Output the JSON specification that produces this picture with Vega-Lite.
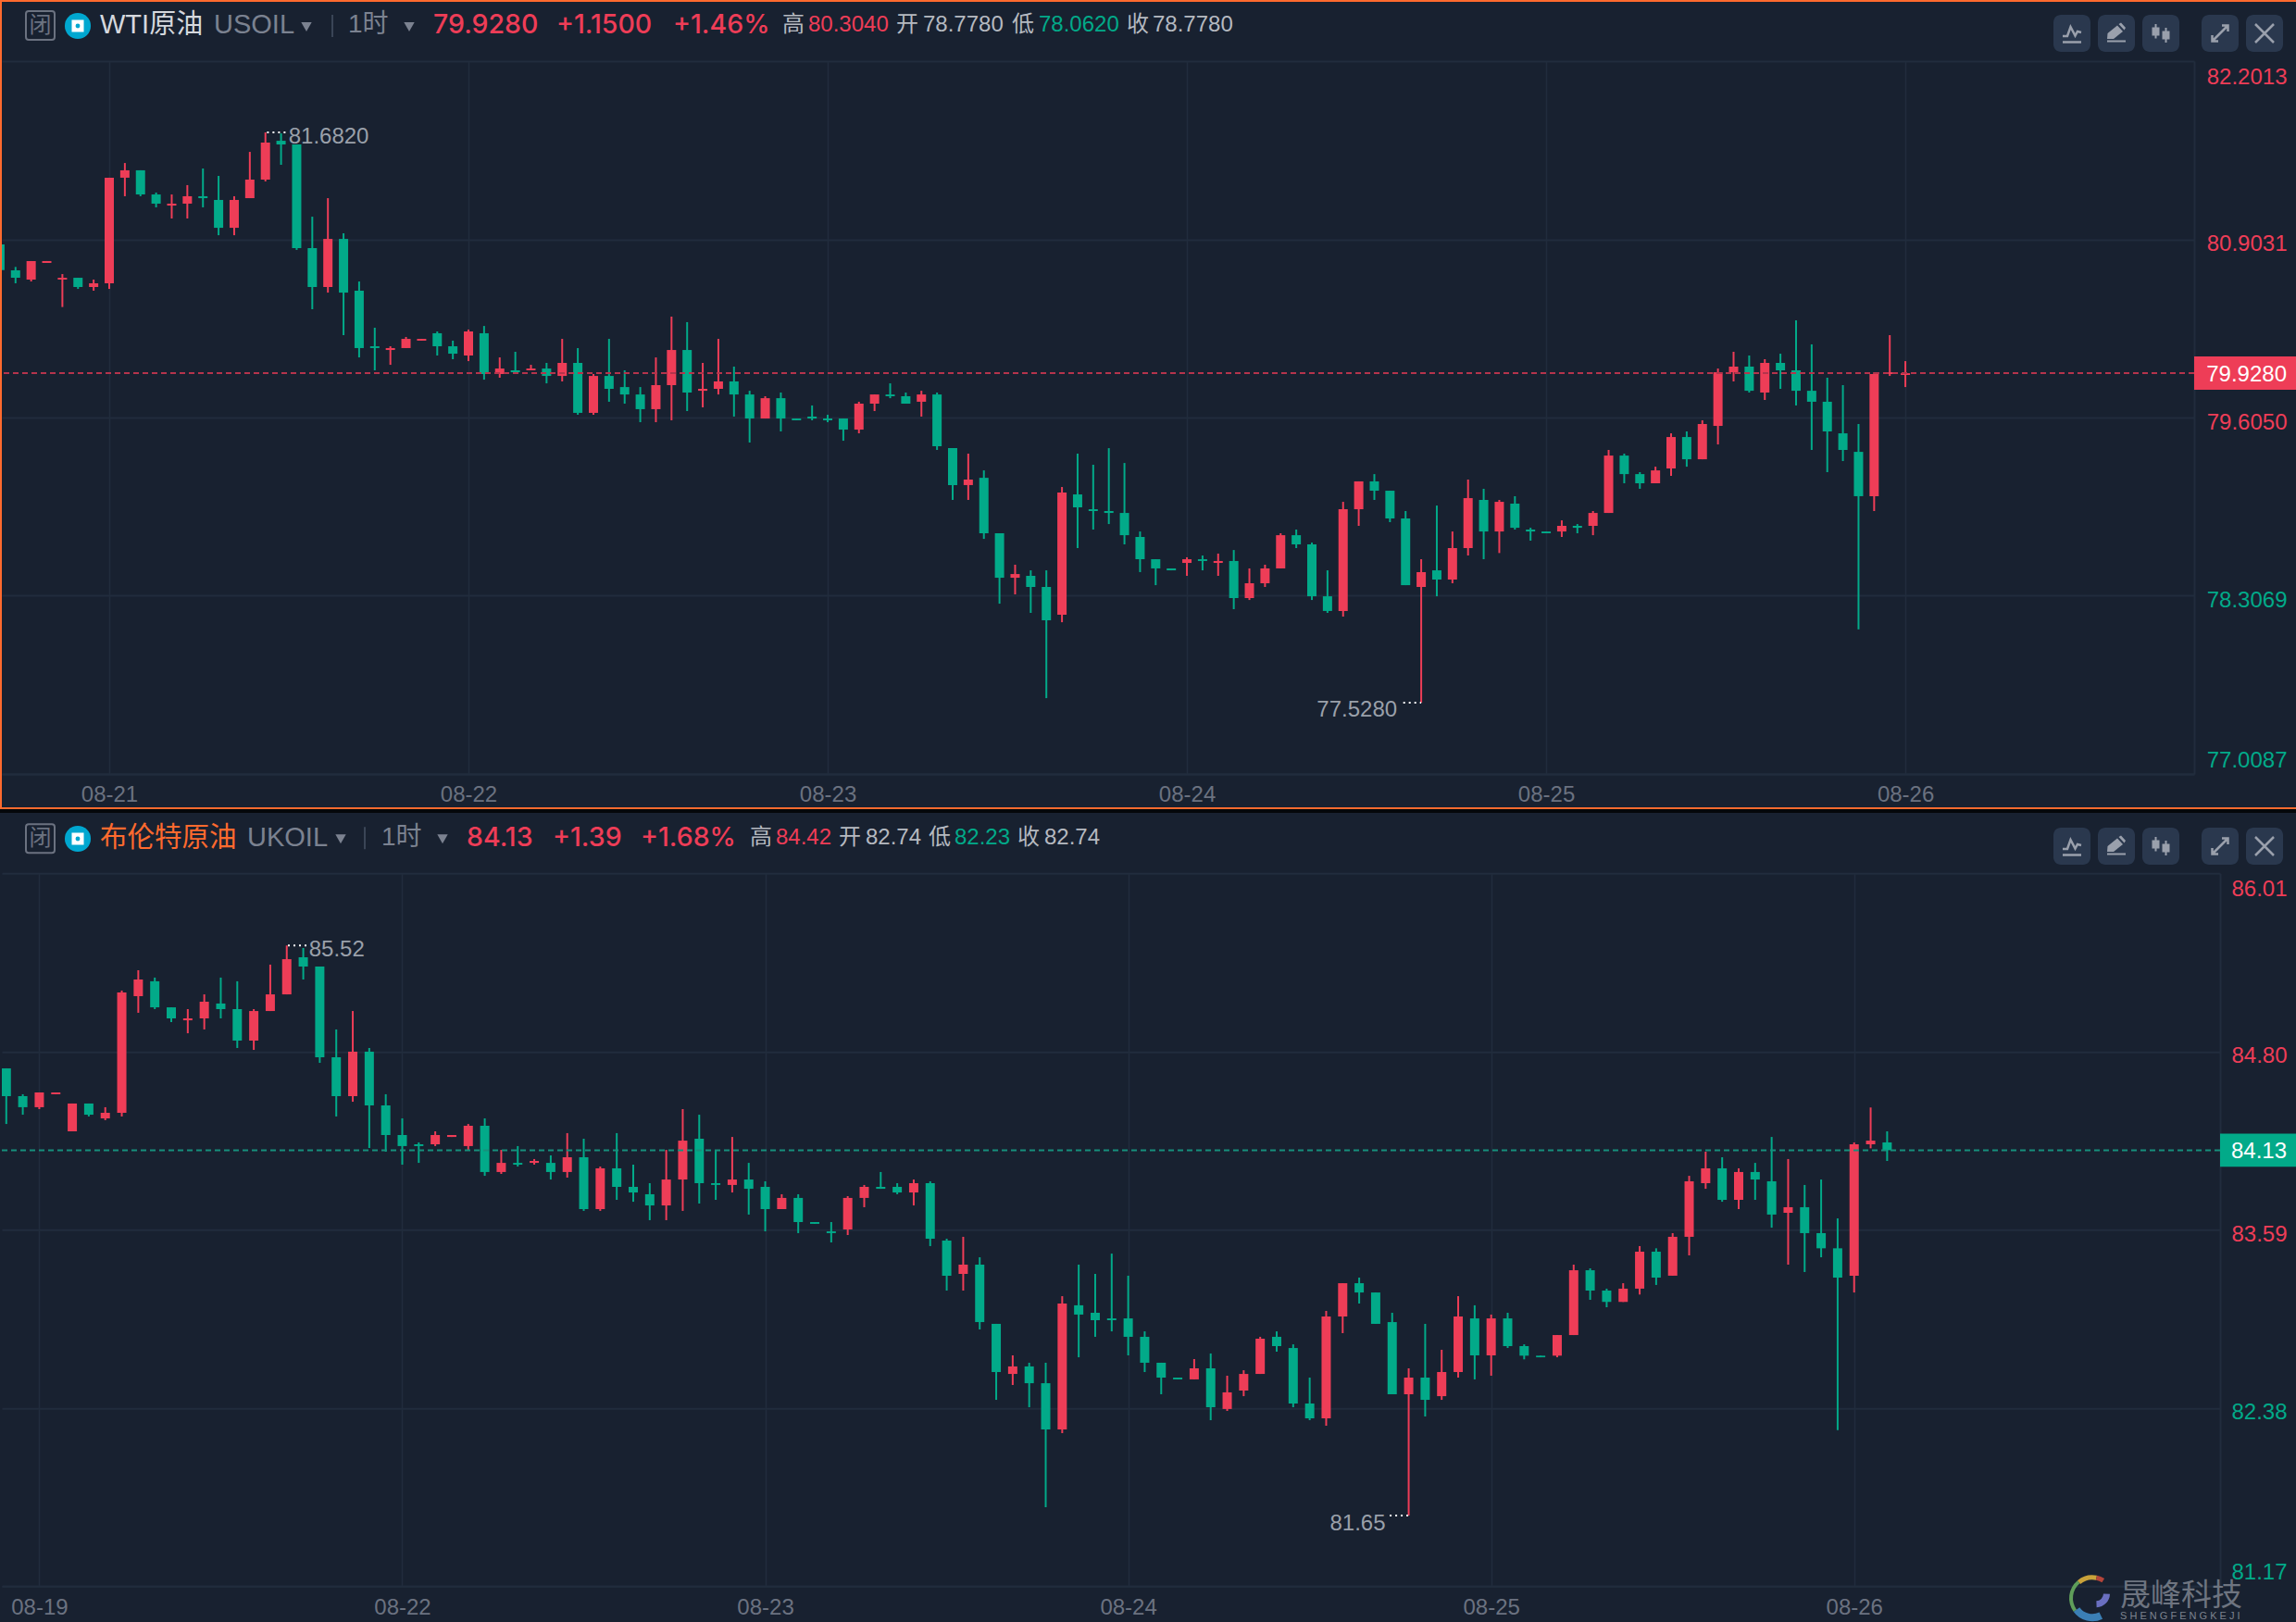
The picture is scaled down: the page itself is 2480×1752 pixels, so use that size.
{
"$schema":"https://vega.github.io/schema/vega-lite/v6.json",
"background":"#182130",
"padding":0,
"spacing":107.3,
"bounds":"flush",
"config":{"view":{"stroke":null},"font":"Liberation Sans, Noto Sans CJK SC"},
"datasets":{
"one":[{}],
"usoil":[
{"i":0,"o":80.866,"h":80.866,"l":80.679,"c":80.679},{"i":1,"o":80.677,"h":80.702,"l":80.583,"c":80.623},{"i":2,"o":80.610,"h":80.745,"l":80.596,"c":80.745},{"i":3,"o":80.731,"h":80.745,"l":80.731,"c":80.745},{"i":4,"o":80.610,"h":80.650,"l":80.410,"c":80.623},{"i":5,"o":80.623,"h":80.623,"l":80.542,"c":80.556},{"i":6,"o":80.556,"h":80.610,"l":80.529,"c":80.583},{"i":7,"o":80.583,"h":81.352,"l":80.542,"c":81.352},{"i":8,"o":81.352,"h":81.459,"l":81.217,"c":81.406},{"i":9,"o":81.406,"h":81.406,"l":81.217,"c":81.230},
{"i":10,"o":81.230,"h":81.244,"l":81.136,"c":81.163},{"i":11,"o":81.149,"h":81.230,"l":81.055,"c":81.163},{"i":12,"o":81.163,"h":81.298,"l":81.055,"c":81.217},{"i":13,"o":81.217,"h":81.419,"l":81.136,"c":81.203},{"i":14,"o":81.190,"h":81.365,"l":80.933,"c":80.987},{"i":15,"o":80.987,"h":81.217,"l":80.933,"c":81.190},{"i":16,"o":81.203,"h":81.540,"l":81.203,"c":81.338},{"i":17,"o":81.338,"h":81.682,"l":81.325,"c":81.608},{"i":18,"o":81.621,"h":81.675,"l":81.446,"c":81.594},{"i":19,"o":81.594,"h":81.594,"l":80.826,"c":80.839},
{"i":20,"o":80.839,"h":81.068,"l":80.394,"c":80.556},{"i":21,"o":80.556,"h":81.203,"l":80.515,"c":80.906},{"i":22,"o":80.906,"h":80.947,"l":80.205,"c":80.515},{"i":23,"o":80.529,"h":80.596,"l":80.043,"c":80.111},{"i":24,"o":80.124,"h":80.259,"l":79.949,"c":80.111},{"i":25,"o":80.097,"h":80.124,"l":79.989,"c":80.111},{"i":26,"o":80.111,"h":80.192,"l":80.111,"c":80.178},{"i":27,"o":80.165,"h":80.178,"l":80.165,"c":80.178},{"i":28,"o":80.219,"h":80.232,"l":80.057,"c":80.124},{"i":29,"o":80.124,"h":80.165,"l":80.030,"c":80.070},
{"i":30,"o":80.057,"h":80.246,"l":80.016,"c":80.232},{"i":31,"o":80.219,"h":80.272,"l":79.881,"c":79.922},{"i":32,"o":79.922,"h":80.043,"l":79.895,"c":79.962},{"i":33,"o":79.949,"h":80.084,"l":79.935,"c":79.935},{"i":34,"o":79.949,"h":79.989,"l":79.949,"c":79.962},{"i":35,"o":79.962,"h":80.003,"l":79.854,"c":79.908},{"i":36,"o":79.908,"h":80.178,"l":79.868,"c":80.003},{"i":37,"o":80.003,"h":80.111,"l":79.625,"c":79.639},{"i":38,"o":79.639,"h":79.922,"l":79.625,"c":79.908},{"i":39,"o":79.908,"h":80.178,"l":79.720,"c":79.814},
{"i":40,"o":79.827,"h":79.949,"l":79.706,"c":79.773},{"i":41,"o":79.773,"h":79.827,"l":79.571,"c":79.666},{"i":42,"o":79.666,"h":80.043,"l":79.571,"c":79.841},{"i":43,"o":79.841,"h":80.340,"l":79.585,"c":80.097},{"i":44,"o":80.097,"h":80.300,"l":79.652,"c":79.787},{"i":45,"o":79.800,"h":80.003,"l":79.679,"c":79.814},{"i":46,"o":79.814,"h":80.178,"l":79.773,"c":79.868},{"i":47,"o":79.868,"h":79.976,"l":79.612,"c":79.773},{"i":48,"o":79.773,"h":79.800,"l":79.423,"c":79.598},{"i":49,"o":79.598,"h":79.760,"l":79.598,"c":79.746},
{"i":50,"o":79.746,"h":79.787,"l":79.504,"c":79.598},{"i":51,"o":79.598,"h":79.598,"l":79.585,"c":79.585},{"i":52,"o":79.612,"h":79.693,"l":79.585,"c":79.598},{"i":53,"o":79.598,"h":79.625,"l":79.571,"c":79.585},{"i":54,"o":79.598,"h":79.598,"l":79.436,"c":79.517},{"i":55,"o":79.517,"h":79.720,"l":79.490,"c":79.706},{"i":56,"o":79.706,"h":79.773,"l":79.652,"c":79.773},{"i":57,"o":79.773,"h":79.854,"l":79.746,"c":79.760},{"i":58,"o":79.760,"h":79.787,"l":79.706,"c":79.706},{"i":59,"o":79.720,"h":79.800,"l":79.612,"c":79.773},
{"i":60,"o":79.773,"h":79.787,"l":79.369,"c":79.396},{"i":61,"o":79.382,"h":79.382,"l":79.005,"c":79.113},{"i":62,"o":79.113,"h":79.342,"l":79.005,"c":79.153},{"i":63,"o":79.166,"h":79.220,"l":78.721,"c":78.762},{"i":64,"o":78.762,"h":78.762,"l":78.249,"c":78.438},{"i":65,"o":78.438,"h":78.533,"l":78.317,"c":78.465},{"i":66,"o":78.452,"h":78.492,"l":78.182,"c":78.371},{"i":67,"o":78.371,"h":78.492,"l":77.561,"c":78.128},{"i":68,"o":78.169,"h":79.099,"l":78.114,"c":79.059},{"i":69,"o":79.045,"h":79.342,"l":78.654,"c":78.951},
{"i":70,"o":78.937,"h":79.261,"l":78.789,"c":78.924},{"i":71,"o":78.924,"h":79.382,"l":78.829,"c":78.910},{"i":72,"o":78.910,"h":79.274,"l":78.681,"c":78.748},{"i":73,"o":78.735,"h":78.775,"l":78.479,"c":78.573},{"i":74,"o":78.573,"h":78.573,"l":78.384,"c":78.506},{"i":75,"o":78.506,"h":78.506,"l":78.492,"c":78.492},{"i":76,"o":78.546,"h":78.587,"l":78.452,"c":78.573},{"i":77,"o":78.573,"h":78.600,"l":78.492,"c":78.560},{"i":78,"o":78.546,"h":78.614,"l":78.452,"c":78.560},{"i":79,"o":78.560,"h":78.640,"l":78.209,"c":78.290},
{"i":80,"o":78.290,"h":78.506,"l":78.276,"c":78.398},{"i":81,"o":78.398,"h":78.533,"l":78.371,"c":78.506},{"i":82,"o":78.506,"h":78.762,"l":78.506,"c":78.748},{"i":83,"o":78.748,"h":78.789,"l":78.654,"c":78.681},{"i":84,"o":78.681,"h":78.694,"l":78.276,"c":78.303},{"i":85,"o":78.303,"h":78.492,"l":78.182,"c":78.196},{"i":86,"o":78.196,"h":78.991,"l":78.155,"c":78.937},{"i":87,"o":78.937,"h":79.140,"l":78.816,"c":79.140},{"i":88,"o":79.140,"h":79.193,"l":79.005,"c":79.072},{"i":89,"o":79.072,"h":79.072,"l":78.843,"c":78.870},
{"i":90,"o":78.870,"h":78.924,"l":78.384,"c":78.384},{"i":91,"o":78.371,"h":78.573,"l":77.528,"c":78.479},{"i":92,"o":78.492,"h":78.964,"l":78.303,"c":78.425},{"i":93,"o":78.425,"h":78.775,"l":78.398,"c":78.654},{"i":94,"o":78.654,"h":79.153,"l":78.600,"c":79.018},{"i":95,"o":79.005,"h":79.086,"l":78.573,"c":78.775},{"i":96,"o":78.775,"h":79.005,"l":78.618,"c":78.991},{"i":97,"o":78.978,"h":79.032,"l":78.789,"c":78.802},{"i":98,"o":78.789,"h":78.802,"l":78.708,"c":78.775},{"i":99,"o":78.775,"h":78.775,"l":78.762,"c":78.762},
{"i":100,"o":78.775,"h":78.856,"l":78.735,"c":78.816},{"i":101,"o":78.816,"h":78.829,"l":78.762,"c":78.802},{"i":102,"o":78.816,"h":78.924,"l":78.748,"c":78.910},{"i":103,"o":78.910,"h":79.369,"l":78.910,"c":79.328},{"i":104,"o":79.328,"h":79.342,"l":79.126,"c":79.193},{"i":105,"o":79.193,"h":79.207,"l":79.086,"c":79.126},{"i":106,"o":79.126,"h":79.247,"l":79.126,"c":79.220},{"i":107,"o":79.234,"h":79.490,"l":79.180,"c":79.463},{"i":108,"o":79.463,"h":79.504,"l":79.247,"c":79.301},{"i":109,"o":79.301,"h":79.585,"l":79.301,"c":79.558},
{"i":110,"o":79.544,"h":79.962,"l":79.409,"c":79.935},{"i":111,"o":79.935,"h":80.084,"l":79.868,"c":79.976},{"i":112,"o":79.976,"h":80.057,"l":79.787,"c":79.800},{"i":113,"o":79.787,"h":80.030,"l":79.733,"c":80.003},{"i":114,"o":80.003,"h":80.070,"l":79.814,"c":79.949},{"i":115,"o":79.949,"h":80.313,"l":79.693,"c":79.800},{"i":116,"o":79.800,"h":80.138,"l":79.369,"c":79.720},{"i":117,"o":79.720,"h":79.895,"l":79.207,"c":79.504},{"i":118,"o":79.490,"h":79.841,"l":79.288,"c":79.369},{"i":119,"o":79.355,"h":79.558,"l":78.062,"c":79.032},
{"i":120,"o":79.032,"h":79.935,"l":78.924,"c":79.922},{"i":121,"o":79.922,"h":80.205,"l":79.908,"c":79.935},{"i":122,"o":79.915,"h":80.016,"l":79.827,"c":79.928}
],
"ukoil":[
{"i":0,"o":84.686,"h":84.686,"l":84.308,"c":84.497},{"i":1,"o":84.497,"h":84.510,"l":84.371,"c":84.422},{"i":2,"o":84.422,"h":84.522,"l":84.409,"c":84.522},{"i":3,"o":84.510,"h":84.522,"l":84.510,"c":84.522},{"i":4,"o":84.258,"h":84.447,"l":84.258,"c":84.447},{"i":5,"o":84.447,"h":84.447,"l":84.359,"c":84.371},{"i":6,"o":84.346,"h":84.422,"l":84.334,"c":84.384},{"i":7,"o":84.384,"h":85.214,"l":84.359,"c":85.201},{"i":8,"o":85.176,"h":85.352,"l":85.063,"c":85.289},{"i":9,"o":85.277,"h":85.302,"l":85.088,"c":85.100},
{"i":10,"o":85.100,"h":85.100,"l":85.000,"c":85.025},{"i":11,"o":85.012,"h":85.088,"l":84.924,"c":85.025},{"i":12,"o":85.025,"h":85.188,"l":84.950,"c":85.138},{"i":13,"o":85.126,"h":85.302,"l":85.025,"c":85.088},{"i":14,"o":85.088,"h":85.277,"l":84.824,"c":84.874},{"i":15,"o":84.874,"h":85.088,"l":84.811,"c":85.075},{"i":16,"o":85.075,"h":85.390,"l":85.075,"c":85.188},{"i":17,"o":85.188,"h":85.52,"l":85.188,"c":85.427},{"i":18,"o":85.440,"h":85.503,"l":85.289,"c":85.377},{"i":19,"o":85.377,"h":85.377,"l":84.723,"c":84.761},
{"i":20,"o":84.761,"h":84.950,"l":84.359,"c":84.497},{"i":21,"o":84.497,"h":85.075,"l":84.459,"c":84.799},{"i":22,"o":84.799,"h":84.824,"l":84.145,"c":84.434},{"i":23,"o":84.434,"h":84.510,"l":84.120,"c":84.233},{"i":24,"o":84.233,"h":84.346,"l":84.032,"c":84.158},{"i":25,"o":84.170,"h":84.183,"l":84.044,"c":84.158},{"i":26,"o":84.170,"h":84.258,"l":84.158,"c":84.233},{"i":27,"o":84.220,"h":84.233,"l":84.220,"c":84.233},{"i":28,"o":84.158,"h":84.308,"l":84.132,"c":84.296},{"i":29,"o":84.296,"h":84.346,"l":83.956,"c":83.982},
{"i":30,"o":83.982,"h":84.132,"l":83.969,"c":84.044},{"i":31,"o":84.044,"h":84.158,"l":84.019,"c":84.032},{"i":32,"o":84.044,"h":84.070,"l":84.032,"c":84.057},{"i":33,"o":84.044,"h":84.095,"l":83.931,"c":83.982},{"i":34,"o":83.982,"h":84.246,"l":83.944,"c":84.082},{"i":35,"o":84.082,"h":84.208,"l":83.718,"c":83.730},{"i":36,"o":83.730,"h":84.019,"l":83.718,"c":84.007},{"i":37,"o":84.007,"h":84.246,"l":83.793,"c":83.881},{"i":38,"o":83.881,"h":84.032,"l":83.780,"c":83.843},{"i":39,"o":83.831,"h":83.906,"l":83.655,"c":83.755},
{"i":40,"o":83.755,"h":84.132,"l":83.655,"c":83.931},{"i":41,"o":83.931,"h":84.409,"l":83.718,"c":84.195},{"i":42,"o":84.208,"h":84.371,"l":83.768,"c":83.906},{"i":43,"o":83.906,"h":84.132,"l":83.793,"c":83.894},{"i":44,"o":83.894,"h":84.220,"l":83.843,"c":83.931},{"i":45,"o":83.931,"h":84.044,"l":83.693,"c":83.868},{"i":46,"o":83.881,"h":83.919,"l":83.579,"c":83.730},{"i":47,"o":83.730,"h":83.831,"l":83.730,"c":83.806},{"i":48,"o":83.806,"h":83.831,"l":83.567,"c":83.642},{"i":49,"o":83.642,"h":83.642,"l":83.630,"c":83.630},
{"i":50,"o":83.579,"h":83.642,"l":83.504,"c":83.567},{"i":51,"o":83.592,"h":83.818,"l":83.554,"c":83.806},{"i":52,"o":83.806,"h":83.894,"l":83.743,"c":83.881},{"i":53,"o":83.881,"h":83.982,"l":83.868,"c":83.868},{"i":54,"o":83.881,"h":83.906,"l":83.831,"c":83.843},{"i":55,"o":83.843,"h":83.931,"l":83.755,"c":83.906},{"i":56,"o":83.906,"h":83.919,"l":83.479,"c":83.529},{"i":57,"o":83.516,"h":83.529,"l":83.177,"c":83.278},{"i":58,"o":83.290,"h":83.542,"l":83.177,"c":83.353},{"i":59,"o":83.353,"h":83.403,"l":82.913,"c":82.963},
{"i":60,"o":82.951,"h":82.951,"l":82.435,"c":82.624},{"i":61,"o":82.611,"h":82.737,"l":82.536,"c":82.662},{"i":62,"o":82.662,"h":82.687,"l":82.385,"c":82.548},{"i":63,"o":82.548,"h":82.687,"l":81.706,"c":82.234},{"i":64,"o":82.234,"h":83.139,"l":82.209,"c":83.089},{"i":65,"o":83.077,"h":83.353,"l":82.724,"c":83.014},{"i":66,"o":83.026,"h":83.290,"l":82.863,"c":82.976},{"i":67,"o":82.988,"h":83.428,"l":82.900,"c":82.976},{"i":68,"o":82.988,"h":83.278,"l":82.737,"c":82.863},{"i":69,"o":82.863,"h":82.900,"l":82.624,"c":82.687},
{"i":70,"o":82.687,"h":82.687,"l":82.473,"c":82.586},{"i":71,"o":82.586,"h":82.586,"l":82.574,"c":82.574},{"i":72,"o":82.574,"h":82.712,"l":82.574,"c":82.649},{"i":73,"o":82.649,"h":82.750,"l":82.297,"c":82.385},{"i":74,"o":82.373,"h":82.599,"l":82.360,"c":82.486},{"i":75,"o":82.498,"h":82.636,"l":82.460,"c":82.611},{"i":76,"o":82.611,"h":82.863,"l":82.611,"c":82.850},{"i":77,"o":82.863,"h":82.900,"l":82.762,"c":82.800},{"i":78,"o":82.787,"h":82.812,"l":82.385,"c":82.410},{"i":79,"o":82.410,"h":82.586,"l":82.297,"c":82.310},
{"i":80,"o":82.310,"h":83.039,"l":82.259,"c":83.001},{"i":81,"o":83.001,"h":83.227,"l":82.888,"c":83.227},{"i":82,"o":83.227,"h":83.265,"l":83.089,"c":83.164},{"i":83,"o":83.164,"h":83.164,"l":82.951,"c":82.951},{"i":84,"o":82.963,"h":83.026,"l":82.473,"c":82.473},{"i":85,"o":82.473,"h":82.649,"l":81.65,"c":82.586},{"i":86,"o":82.586,"h":82.951,"l":82.322,"c":82.435},{"i":87,"o":82.460,"h":82.775,"l":82.435,"c":82.624},{"i":88,"o":82.624,"h":83.139,"l":82.586,"c":83.001},{"i":89,"o":82.988,"h":83.077,"l":82.574,"c":82.737},
{"i":90,"o":82.737,"h":83.014,"l":82.599,"c":82.988},{"i":91,"o":82.988,"h":83.026,"l":82.787,"c":82.800},{"i":92,"o":82.800,"h":82.812,"l":82.710,"c":82.735},{"i":93,"o":82.735,"h":82.735,"l":82.724,"c":82.724},{"i":94,"o":82.735,"h":82.875,"l":82.724,"c":82.875},{"i":95,"o":82.875,"h":83.353,"l":82.875,"c":83.315},{"i":96,"o":83.315,"h":83.328,"l":83.114,"c":83.177},{"i":97,"o":83.177,"h":83.190,"l":83.064,"c":83.100},{"i":98,"o":83.100,"h":83.227,"l":83.100,"c":83.190},{"i":99,"o":83.190,"h":83.479,"l":83.150,"c":83.441},
{"i":100,"o":83.441,"h":83.464,"l":83.215,"c":83.265},{"i":101,"o":83.278,"h":83.567,"l":83.278,"c":83.542},{"i":102,"o":83.542,"h":83.956,"l":83.416,"c":83.919},{"i":103,"o":83.906,"h":84.120,"l":83.868,"c":84.007},{"i":104,"o":84.007,"h":84.082,"l":83.780,"c":83.793},{"i":105,"o":83.793,"h":84.007,"l":83.730,"c":83.982},{"i":106,"o":83.982,"h":84.044,"l":83.793,"c":83.931},{"i":107,"o":83.919,"h":84.220,"l":83.604,"c":83.693},{"i":108,"o":83.705,"h":84.070,"l":83.353,"c":83.743},{"i":109,"o":83.743,"h":83.894,"l":83.303,"c":83.567},
{"i":110,"o":83.567,"h":83.931,"l":83.403,"c":83.464},{"i":111,"o":83.464,"h":83.667,"l":82.23,"c":83.265},{"i":112,"o":83.278,"h":84.183,"l":83.164,"c":84.170},{"i":113,"o":84.170,"h":84.42,"l":84.143,"c":84.195},{"i":114,"o":84.183,"h":84.258,"l":84.057,"c":84.13}
]
},
"vconcat":[
{"width":2368,"height":770,"layer":[
{"data":{"name":"one"},"mark":{"type":"rect","color":"#ff6a2e"},"encoding":{"x":{"value":-2},"x2":{"value":2478},"y":{"value":-66},"y2":{"value":-64}}},
{"data":{"name":"one"},"mark":{"type":"rect","color":"#ff6a2e"},"encoding":{"x":{"value":-2},"x2":{"value":0},"y":{"value":-66},"y2":{"value":808}}},
{"data":{"name":"one"},"mark":{"type":"rect","color":"#ff6a2e"},"encoding":{"x":{"value":-2},"x2":{"value":2478},"y":{"value":806},"y2":{"value":808}}},
{"data":{"name":"one"},"mark":{"type":"rect","color":"#05070a"},"encoding":{"x":{"value":-2},"x2":{"value":2478},"y":{"value":808},"y2":{"value":812}}},
{"data":{"name":"usoil"},"mark":{"type":"rule","strokeWidth":2,"clip":true},"encoding":{
"x":{"field":"i","type":"quantitative","title":null,"scale":{"domain":[0.124,140.49],"nice":false,"zero":false,"padding":0},"axis":{"values":[7,30,53,76,99,122],"labelExpr":"{'7':'08-21','30':'08-22','53':'08-23','76':'08-24','99':'08-25','122':'08-26'}[datum.value]","grid":true,"gridColor":"#212c3d","gridWidth":1.5,"ticks":false,"domainColor":"#212c3d","domainWidth":2,"labelColor":"#6b7280","labelFontSize":24,"labelBaseline":"middle","labelPadding":22,"labelFlush":false,"labelOverlap":false}},
"y":{"field":"h","type":"quantitative","title":null,"scale":{"domain":[77.0087,82.2013],"nice":false,"zero":false},"axis":{"orient":"right","values":[77.0087,78.3069,79.605,80.9031,82.2013],"format":".4f","grid":true,"gridColor":"#212c3d","gridWidth":2,"ticks":false,"domainColor":"#212c3d","domainWidth":2,"labelAlign":"right","labelPadding":100,"labelFontSize":24,"labelFlush":false,"labelOverlap":false,"labelBaseline":"middle","labelOffset":{"condition":[{"test":"datum.value>82","value":17},{"test":"datum.value<77.1","value":-14.6}],"value":5},"labelColor":{"condition":{"test":"datum.value>78.778","value":"#ee3d57"},"value":"#02aa89"}}},
"y2":{"field":"l"},
"color":{"condition":{"test":"datum.c>=datum.o","value":"#ee3d57"},"value":"#02aa89"}}},
{"data":{"name":"usoil"},"mark":{"type":"bar","width":10,"clip":true},"encoding":{
"x":{"field":"i","type":"quantitative","title":null,"scale":{"domain":[0.124,140.49],"nice":false,"zero":false,"padding":0}},
"y":{"field":"o","type":"quantitative","title":null,"scale":{"domain":[77.0087,82.2013],"nice":false,"zero":false}},
"y2":{"field":"c"},
"color":{"condition":{"test":"datum.c>=datum.o","value":"#ee3d57"},"value":"#02aa89"}}},
{"data":{"name":"one"},"mark":{"type":"rule","color":"#b5344c","strokeWidth":2,"strokeDash":[6,4]},"encoding":{"y":{"datum":79.928,"type":"quantitative","title":null,"scale":{"domain":[77.0087,82.2013],"nice":false,"zero":false}}}},
{"data":{"values":[{"i":17.1,"i2":18.3,"price":81.682},{"i":89.85,"i2":91,"price":77.528}]},"mark":{"type":"rule","color":"#ffffff","strokeWidth":2,"strokeDash":[2,4]},"encoding":{
"x":{"field":"i","type":"quantitative","title":null,"scale":{"domain":[0.124,140.49],"nice":false,"zero":false,"padding":0}},"x2":{"field":"i2"},
"y":{"field":"price","type":"quantitative","title":null,"scale":{"domain":[77.0087,82.2013],"nice":false,"zero":false}}}},
{"data":{"values":[{"i":17,"price":81.682,"label":"81.6820"}]},"mark":{"type":"text","align":"left","baseline":"middle","dx":25,"dy":4.5,"fontSize":24,"color":"#9aa0aa"},"encoding":{
"x":{"field":"i","type":"quantitative","title":null,"scale":{"domain":[0.124,140.49],"nice":false,"zero":false,"padding":0}},
"y":{"field":"price","type":"quantitative","title":null,"scale":{"domain":[77.0087,82.2013],"nice":false,"zero":false}},"text":{"field":"label"}}},
{"data":{"values":[{"i":91,"price":77.528,"label":"77.5280"}]},"mark":{"type":"text","align":"right","baseline":"middle","dx":-26,"dy":8,"fontSize":24,"color":"#9aa0aa"},"encoding":{
"x":{"field":"i","type":"quantitative","title":null,"scale":{"domain":[0.124,140.49],"nice":false,"zero":false,"padding":0}},
"y":{"field":"price","type":"quantitative","title":null,"scale":{"domain":[77.0087,82.2013],"nice":false,"zero":false}},"text":{"field":"label"}}},
{"data":{"name":"one"},"mark":{"type":"rect","color":"#ee3d57"},"encoding":{"x":{"value":2368},"x2":{"value":2478},"y":{"datum":80.0494,"type":"quantitative","title":null,"scale":{"domain":[77.0087,82.2013],"nice":false,"zero":false}},"y2":{"datum":79.8066}}},
{"data":{"name":"one"},"mark":{"type":"text","text":"79.9280","align":"right","baseline":"middle","fontSize":24,"dy":2,"color":"#ffffff","x":2468},"encoding":{"y":{"datum":79.928,"type":"quantitative","title":null,"scale":{"domain":[77.0087,82.2013],"nice":false,"zero":false}}}},
{"data":{"name":"one"},"mark":{"type":"rect","fill":null,"stroke":"#6b7280","strokeWidth":2,"cornerRadius":3},"encoding":{"x":{"value":26},"x2":{"value":57},"y":{"value":-54},"y2":{"value":-23}}},
{"data":{"name":"one"},"mark":{"type":"text","text":"闭","align":"center","baseline":"middle","fontSize":24,"color":"#6b7280","x":41.5,"y":-38}},
{"data":{"name":"one"},"mark":{"type":"point","filled":true,"opacity":1,"shape":"circle","color":"#00a7d0","size":790},"encoding":{"x":{"value":82},"y":{"value":-38}}},
{"data":{"name":"one"},"mark":{"type":"point","filled":true,"opacity":1,"shape":"square","color":"#ffffff","size":170},"encoding":{"x":{"value":82},"y":{"value":-38}}},
{"data":{"name":"one"},"mark":{"type":"point","filled":true,"opacity":1,"shape":"circle","color":"#00a7d0","size":24},"encoding":{"x":{"value":82},"y":{"value":-38}}},
{"data":{"name":"one"},"mark":{"type":"text","text":"WTI原油","align":"left","baseline":"middle","fontSize":29,"color":"#d5d8de","x":106,"y":-39.5}},
{"data":{"name":"one"},"mark":{"type":"text","text":"USOIL","align":"left","baseline":"middle","fontSize":29,"color":"#7b8290","x":229,"y":-39.5}},
{"data":{"name":"one"},"mark":{"type":"point","filled":true,"opacity":1,"shape":"triangle-down","color":"#7b8290","size":130},"encoding":{"x":{"value":329},"y":{"value":-37}}},
{"data":{"name":"one"},"mark":{"type":"rule","color":"#3a4556","strokeWidth":2},"encoding":{"x":{"value":357},"y":{"value":-50},"y2":{"value":-26}}},
{"data":{"name":"one"},"mark":{"type":"text","text":"1时","align":"left","baseline":"middle","fontSize":28,"color":"#7b8290","x":374,"y":-39.5}},
{"data":{"name":"one"},"mark":{"type":"point","filled":true,"opacity":1,"shape":"triangle-down","color":"#7b8290","size":130},"encoding":{"x":{"value":440},"y":{"value":-37}}},
{"data":{"name":"one"},"mark":{"type":"text","text":"79.9280","align":"left","baseline":"middle","fontSize":28.5,"fontWeight":500,"font":"Inter","color":"#ee3d57","x":466,"y":-39.5}},
{"data":{"name":"one"},"mark":{"type":"text","text":"+1.1500","align":"left","baseline":"middle","fontSize":28.5,"fontWeight":500,"font":"Inter","color":"#ee3d57","x":599,"y":-39.5}},
{"data":{"name":"one"},"mark":{"type":"text","text":"+1.46%","align":"left","baseline":"middle","fontSize":28.5,"fontWeight":500,"font":"Inter","color":"#ee3d57","x":725,"y":-39.5}},
{"data":{"name":"one"},"mark":{"type":"text","text":"高","align":"left","baseline":"middle","fontSize":24,"color":"#b5b9c0","x":843,"y":-39.5}},
{"data":{"name":"one"},"mark":{"type":"text","text":"80.3040","align":"left","baseline":"middle","fontSize":24,"color":"#ee3d57","x":871,"y":-39.5}},
{"data":{"name":"one"},"mark":{"type":"text","text":"开","align":"left","baseline":"middle","fontSize":24,"color":"#b5b9c0","x":966,"y":-39.5}},
{"data":{"name":"one"},"mark":{"type":"text","text":"78.7780","align":"left","baseline":"middle","fontSize":24,"color":"#b5b9c0","x":995,"y":-39.5}},
{"data":{"name":"one"},"mark":{"type":"text","text":"低","align":"left","baseline":"middle","fontSize":24,"color":"#b5b9c0","x":1091,"y":-39.5}},
{"data":{"name":"one"},"mark":{"type":"text","text":"78.0620","align":"left","baseline":"middle","fontSize":24,"color":"#02aa89","x":1120,"y":-39.5}},
{"data":{"name":"one"},"mark":{"type":"text","text":"收","align":"left","baseline":"middle","fontSize":24,"color":"#b5b9c0","x":1215,"y":-39.5}},
{"data":{"name":"one"},"mark":{"type":"text","text":"78.7780","align":"left","baseline":"middle","fontSize":24,"color":"#b5b9c0","x":1243,"y":-39.5}},
{"data":{"name":"one"},"mark":{"type":"rect","color":"#2a384e","cornerRadius":8},"encoding":{"x":{"value":2216},"x2":{"value":2256},"y":{"value":-50},"y2":{"value":-10}}},
{"data":{"name":"one"},"mark":{"type":"rect","color":"#2a384e","cornerRadius":8},"encoding":{"x":{"value":2264},"x2":{"value":2304},"y":{"value":-50},"y2":{"value":-10}}},
{"data":{"name":"one"},"mark":{"type":"rect","color":"#2a384e","cornerRadius":8},"encoding":{"x":{"value":2312},"x2":{"value":2352},"y":{"value":-50},"y2":{"value":-10}}},
{"data":{"name":"one"},"mark":{"type":"rect","color":"#2a384e","cornerRadius":8},"encoding":{"x":{"value":2376},"x2":{"value":2416},"y":{"value":-50},"y2":{"value":-10}}},
{"data":{"name":"one"},"mark":{"type":"rect","color":"#2a384e","cornerRadius":8},"encoding":{"x":{"value":2424},"x2":{"value":2464},"y":{"value":-50},"y2":{"value":-10}}},
{"data":{"name":"one"},"mark":{"type":"point","opacity":1,"filled":false,"strokeWidth":2.5,"color":"#9aa0ac","size":400,"shape":"M-1 0.95L1 0.95M-1 0.3L-0.5 0.3L-0.15 -0.7L0.35 0.25L0.6 -0.2L1 -0.1"},"encoding":{"x":{"value":2236},"y":{"value":-30}}},
{"data":{"name":"one"},"mark":{"type":"point","opacity":1,"filled":true,"color":"#9aa0ac","size":400,"shape":"M-1 0.95L1 0.95L1 0.75L-1 0.75ZM-1 0.6L-0.95 0L0.1 -0.85L0.7 -0.2L-0.3 0.6ZM0.25 -1L0.5 -1.15L1 -0.6L0.85 -0.35Z"},"encoding":{"x":{"value":2284},"y":{"value":-30}}},
{"data":{"name":"one"},"mark":{"type":"point","opacity":1,"filled":true,"color":"#9aa0ac","size":400,"shape":"M-0.95 -0.65H-0.65V-1H-0.45V-0.65H-0.15V0.25H-0.45V0.55H-0.65V0.25H-0.95ZM0.15 -0.25H0.45V-0.6H0.65V-0.25H0.95V0.65H0.65V1H0.45V0.65H0.15Z"},"encoding":{"x":{"value":2332},"y":{"value":-30}}},
{"data":{"name":"one"},"mark":{"type":"point","opacity":1,"filled":false,"strokeWidth":2.5,"color":"#9aa0ac","size":400,"shape":"M0.2 -0.85L0.85 -0.85L0.85 -0.2M0.85 -0.85L-0.85 0.85M-0.85 0.2L-0.85 0.85L-0.2 0.85"},"encoding":{"x":{"value":2396},"y":{"value":-30}}},
{"data":{"name":"one"},"mark":{"type":"point","opacity":1,"filled":false,"strokeWidth":2.5,"color":"#9aa0ac","size":400,"shape":"M-1 -1L1 1M1 -1L-1 1"},"encoding":{"x":{"value":2444},"y":{"value":-30}}}
]},
{"width":2396,"height":770,"layer":[
{"data":{"name":"ukoil"},"mark":{"type":"rule","strokeWidth":2,"clip":true},"encoding":{
"x":{"field":"i","type":"quantitative","title":null,"scale":{"domain":[-0.269,134.18],"nice":false,"zero":false,"padding":0},"axis":{"values":[2,24,46,68,90,112],"labelExpr":"{'2':'08-19','24':'08-22','46':'08-23','68':'08-24','90':'08-25','112':'08-26'}[datum.value]","grid":true,"gridColor":"#212c3d","gridWidth":1.5,"ticks":false,"domainColor":"#212c3d","domainWidth":2,"labelColor":"#6b7280","labelFontSize":24,"labelBaseline":"middle","labelPadding":23.5,"labelFlush":false,"labelOverlap":false}},
"y":{"field":"h","type":"quantitative","title":null,"scale":{"domain":[81.17,86.01],"nice":false,"zero":false},"axis":{"orient":"right","values":[81.17,82.38,83.59,84.8,86.01],"format":".2f","grid":true,"gridColor":"#212c3d","gridWidth":2,"ticks":false,"domainColor":"#212c3d","domainWidth":2,"labelAlign":"right","labelPadding":72,"labelFontSize":24,"labelFlush":false,"labelOverlap":false,"labelBaseline":"middle","labelOffset":{"condition":[{"test":"datum.value>86","value":17},{"test":"datum.value<81.2","value":-14.6}],"value":5},"labelColor":{"condition":{"test":"datum.value>82.74","value":"#ee3d57"},"value":"#02aa89"}}},
"y2":{"field":"l"},
"color":{"condition":{"test":"datum.c>=datum.o","value":"#ee3d57"},"value":"#02aa89"}}},
{"data":{"name":"ukoil"},"mark":{"type":"bar","width":10,"clip":true},"encoding":{
"x":{"field":"i","type":"quantitative","title":null,"scale":{"domain":[-0.269,134.18],"nice":false,"zero":false,"padding":0}},
"y":{"field":"o","type":"quantitative","title":null,"scale":{"domain":[81.17,86.01],"nice":false,"zero":false}},
"y2":{"field":"c"},
"color":{"condition":{"test":"datum.c>=datum.o","value":"#ee3d57"},"value":"#02aa89"}}},
{"data":{"name":"one"},"mark":{"type":"rule","color":"#16907c","strokeWidth":2,"strokeDash":[6,4]},"encoding":{"y":{"datum":84.13,"type":"quantitative","title":null,"scale":{"domain":[81.17,86.01],"nice":false,"zero":false}}}},
{"data":{"values":[{"i":17.07,"i2":18.2,"price":85.52},{"i":83.85,"i2":85,"price":81.65}]},"mark":{"type":"rule","color":"#ffffff","strokeWidth":2,"strokeDash":[2,4]},"encoding":{
"x":{"field":"i","type":"quantitative","title":null,"scale":{"domain":[-0.269,134.18],"nice":false,"zero":false,"padding":0}},"x2":{"field":"i2"},
"y":{"field":"price","type":"quantitative","title":null,"scale":{"domain":[81.17,86.01],"nice":false,"zero":false}}}},
{"data":{"values":[{"i":17,"price":85.52,"label":"85.52"}]},"mark":{"type":"text","align":"left","baseline":"middle","dx":24,"dy":4.5,"fontSize":24,"color":"#9aa0aa"},"encoding":{
"x":{"field":"i","type":"quantitative","title":null,"scale":{"domain":[-0.269,134.18],"nice":false,"zero":false,"padding":0}},
"y":{"field":"price","type":"quantitative","title":null,"scale":{"domain":[81.17,86.01],"nice":false,"zero":false}},"text":{"field":"label"}}},
{"data":{"values":[{"i":85,"price":81.65,"label":"81.65"}]},"mark":{"type":"text","align":"right","baseline":"middle","dx":-25,"dy":9,"fontSize":24,"color":"#9aa0aa"},"encoding":{
"x":{"field":"i","type":"quantitative","title":null,"scale":{"domain":[-0.269,134.18],"nice":false,"zero":false,"padding":0}},
"y":{"field":"price","type":"quantitative","title":null,"scale":{"domain":[81.17,86.01],"nice":false,"zero":false}},"text":{"field":"label"}}},
{"data":{"name":"one"},"mark":{"type":"rect","color":"#02aa89"},"encoding":{"x":{"value":2396},"x2":{"value":2478},"y":{"datum":84.243,"type":"quantitative","title":null,"scale":{"domain":[81.17,86.01],"nice":false,"zero":false}},"y2":{"datum":84.017}}},
{"data":{"name":"one"},"mark":{"type":"text","text":"84.13","align":"right","baseline":"middle","fontSize":24,"dy":2,"color":"#ffffff","x":2468},"encoding":{"y":{"datum":84.13,"type":"quantitative","title":null,"scale":{"domain":[81.17,86.01],"nice":false,"zero":false}}}},
{"data":{"name":"one"},"mark":{"type":"rect","fill":null,"stroke":"#6b7280","strokeWidth":2,"cornerRadius":3},"encoding":{"x":{"value":26},"x2":{"value":57},"y":{"value":-53},"y2":{"value":-22}}},
{"data":{"name":"one"},"mark":{"type":"text","text":"闭","align":"center","baseline":"middle","fontSize":24,"color":"#6b7280","x":41.5,"y":-37}},
{"data":{"name":"one"},"mark":{"type":"point","filled":true,"opacity":1,"shape":"circle","color":"#00a7d0","size":790},"encoding":{"x":{"value":82},"y":{"value":-37.3}}},
{"data":{"name":"one"},"mark":{"type":"point","filled":true,"opacity":1,"shape":"square","color":"#ffffff","size":170},"encoding":{"x":{"value":82},"y":{"value":-37.3}}},
{"data":{"name":"one"},"mark":{"type":"point","filled":true,"opacity":1,"shape":"circle","color":"#00a7d0","size":24},"encoding":{"x":{"value":82},"y":{"value":-37.3}}},
{"data":{"name":"one"},"mark":{"type":"text","text":"布伦特原油","align":"left","baseline":"middle","fontSize":29.5,"color":"#ff6a2e","x":106,"y":-38.5}},
{"data":{"name":"one"},"mark":{"type":"text","text":"UKOIL","align":"left","baseline":"middle","fontSize":29,"color":"#7b8290","x":265,"y":-38.5}},
{"data":{"name":"one"},"mark":{"type":"point","filled":true,"opacity":1,"shape":"triangle-down","color":"#7b8290","size":130},"encoding":{"x":{"value":366},"y":{"value":-37}}},
{"data":{"name":"one"},"mark":{"type":"rule","color":"#3a4556","strokeWidth":2},"encoding":{"x":{"value":392},"y":{"value":-50},"y2":{"value":-26}}},
{"data":{"name":"one"},"mark":{"type":"text","text":"1时","align":"left","baseline":"middle","fontSize":28,"color":"#7b8290","x":410,"y":-38.5}},
{"data":{"name":"one"},"mark":{"type":"point","filled":true,"opacity":1,"shape":"triangle-down","color":"#7b8290","size":130},"encoding":{"x":{"value":476},"y":{"value":-37}}},
{"data":{"name":"one"},"mark":{"type":"text","text":"84.13","align":"left","baseline":"middle","fontSize":28.5,"fontWeight":500,"font":"Inter","color":"#ee3d57","x":502,"y":-38.5}},
{"data":{"name":"one"},"mark":{"type":"text","text":"+1.39","align":"left","baseline":"middle","fontSize":28.5,"fontWeight":500,"font":"Inter","color":"#ee3d57","x":595,"y":-38.5}},
{"data":{"name":"one"},"mark":{"type":"text","text":"+1.68%","align":"left","baseline":"middle","fontSize":28.5,"fontWeight":500,"font":"Inter","color":"#ee3d57","x":690,"y":-38.5}},
{"data":{"name":"one"},"mark":{"type":"text","text":"高","align":"left","baseline":"middle","fontSize":24,"color":"#b5b9c0","x":808,"y":-38.5}},
{"data":{"name":"one"},"mark":{"type":"text","text":"84.42","align":"left","baseline":"middle","fontSize":24,"color":"#ee3d57","x":836,"y":-38.5}},
{"data":{"name":"one"},"mark":{"type":"text","text":"开","align":"left","baseline":"middle","fontSize":24,"color":"#b5b9c0","x":904,"y":-38.5}},
{"data":{"name":"one"},"mark":{"type":"text","text":"82.74","align":"left","baseline":"middle","fontSize":24,"color":"#b5b9c0","x":933,"y":-38.5}},
{"data":{"name":"one"},"mark":{"type":"text","text":"低","align":"left","baseline":"middle","fontSize":24,"color":"#b5b9c0","x":1001,"y":-38.5}},
{"data":{"name":"one"},"mark":{"type":"text","text":"82.23","align":"left","baseline":"middle","fontSize":24,"color":"#02aa89","x":1029,"y":-38.5}},
{"data":{"name":"one"},"mark":{"type":"text","text":"收","align":"left","baseline":"middle","fontSize":24,"color":"#b5b9c0","x":1097,"y":-38.5}},
{"data":{"name":"one"},"mark":{"type":"text","text":"82.74","align":"left","baseline":"middle","fontSize":24,"color":"#b5b9c0","x":1126,"y":-38.5}},
{"data":{"name":"one"},"mark":{"type":"rect","color":"#2a384e","cornerRadius":8},"encoding":{"x":{"value":2216},"x2":{"value":2256},"y":{"value":-49.3},"y2":{"value":-9.3}}},
{"data":{"name":"one"},"mark":{"type":"rect","color":"#2a384e","cornerRadius":8},"encoding":{"x":{"value":2264},"x2":{"value":2304},"y":{"value":-49.3},"y2":{"value":-9.3}}},
{"data":{"name":"one"},"mark":{"type":"rect","color":"#2a384e","cornerRadius":8},"encoding":{"x":{"value":2312},"x2":{"value":2352},"y":{"value":-49.3},"y2":{"value":-9.3}}},
{"data":{"name":"one"},"mark":{"type":"rect","color":"#2a384e","cornerRadius":8},"encoding":{"x":{"value":2376},"x2":{"value":2416},"y":{"value":-49.3},"y2":{"value":-9.3}}},
{"data":{"name":"one"},"mark":{"type":"rect","color":"#2a384e","cornerRadius":8},"encoding":{"x":{"value":2424},"x2":{"value":2464},"y":{"value":-49.3},"y2":{"value":-9.3}}},
{"data":{"name":"one"},"mark":{"type":"point","opacity":1,"filled":false,"strokeWidth":2.5,"color":"#9aa0ac","size":400,"shape":"M-1 0.95L1 0.95M-1 0.3L-0.5 0.3L-0.15 -0.7L0.35 0.25L0.6 -0.2L1 -0.1"},"encoding":{"x":{"value":2236},"y":{"value":-29.3}}},
{"data":{"name":"one"},"mark":{"type":"point","opacity":1,"filled":true,"color":"#9aa0ac","size":400,"shape":"M-1 0.95L1 0.95L1 0.75L-1 0.75ZM-1 0.6L-0.95 0L0.1 -0.85L0.7 -0.2L-0.3 0.6ZM0.25 -1L0.5 -1.15L1 -0.6L0.85 -0.35Z"},"encoding":{"x":{"value":2284},"y":{"value":-29.3}}},
{"data":{"name":"one"},"mark":{"type":"point","opacity":1,"filled":true,"color":"#9aa0ac","size":400,"shape":"M-0.95 -0.65H-0.65V-1H-0.45V-0.65H-0.15V0.25H-0.45V0.55H-0.65V0.25H-0.95ZM0.15 -0.25H0.45V-0.6H0.65V-0.25H0.95V0.65H0.65V1H0.45V0.65H0.15Z"},"encoding":{"x":{"value":2332},"y":{"value":-29.3}}},
{"data":{"name":"one"},"mark":{"type":"point","opacity":1,"filled":false,"strokeWidth":2.5,"color":"#9aa0ac","size":400,"shape":"M0.2 -0.85L0.85 -0.85L0.85 -0.2M0.85 -0.85L-0.85 0.85M-0.85 0.2L-0.85 0.85L-0.2 0.85"},"encoding":{"x":{"value":2396},"y":{"value":-29.3}}},
{"data":{"name":"one"},"mark":{"type":"point","opacity":1,"filled":false,"strokeWidth":2.5,"color":"#9aa0ac","size":400,"shape":"M-1 -1L1 1M1 -1L-1 1"},"encoding":{"x":{"value":2444},"y":{"value":-29.3}}},
{"data":{"name":"one"},"mark":{"type":"rect","color":"#182130"},"encoding":{"x":{"value":-2},"x2":{"value":2478},"y":{"value":806.7},"y2":{"value":808.7}}},
{"data":{"name":"one"},"mark":{"type":"arc","color":"#c9a23a"},"encoding":{"x":{"value":2258},"y":{"value":783},"theta":{"value":-0.7},"theta2":{"value":0.2},"radius":{"value":25},"radius2":{"value":20}}},
{"data":{"name":"one"},"mark":{"type":"arc","color":"#b5453a"},"encoding":{"x":{"value":2258},"y":{"value":783},"theta":{"value":0.2},"theta2":{"value":0.55},"radius":{"value":25},"radius2":{"value":20}}},
{"data":{"name":"one"},"mark":{"type":"arc","color":"#5f9e5a"},"encoding":{"x":{"value":2258},"y":{"value":783},"theta":{"value":-2.2},"theta2":{"value":-0.7},"radius":{"value":25},"radius2":{"value":21}}},
{"data":{"name":"one"},"mark":{"type":"arc","color":"#3b7fb5"},"encoding":{"x":{"value":2258},"y":{"value":783},"theta":{"value":-3.6},"theta2":{"value":-2.2},"radius":{"value":25},"radius2":{"value":17}}},
{"data":{"name":"one"},"mark":{"type":"arc","color":"#6a6fc0"},"encoding":{"x":{"value":2262},"y":{"value":778},"theta":{"value":1.6},"theta2":{"value":3.1},"radius":{"value":15},"radius2":{"value":8}}},
{"data":{"name":"one"},"mark":{"type":"text","text":"晟峰科技","align":"left","baseline":"middle","fontSize":33,"color":"#7d838e","opacity":0.85,"x":2288,"y":781}},
{"data":{"name":"one"},"mark":{"type":"text","text":"S H E N G F E N G K E J I","align":"left","baseline":"middle","fontSize":11,"color":"#7d838e","x":2288,"y":803}}
]}
]
}
